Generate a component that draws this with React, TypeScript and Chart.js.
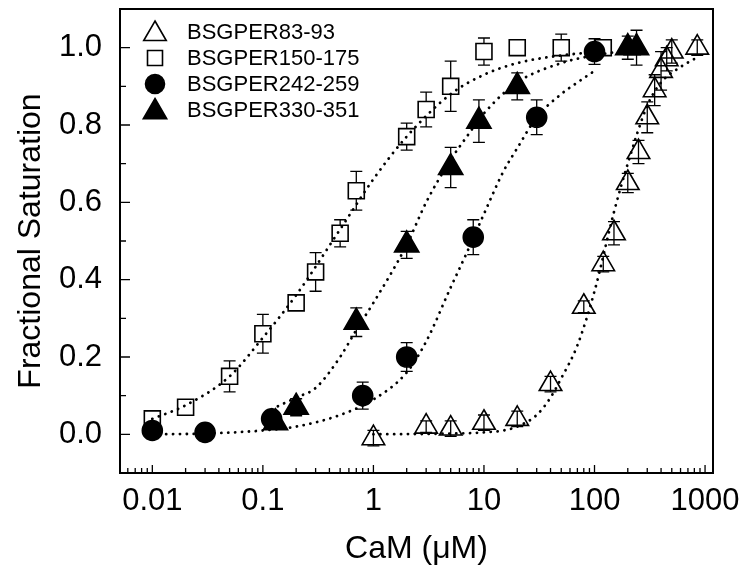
import React, { useEffect, useRef } from 'react';
import { Chart, registerables } from 'chart.js';

Chart.register(...registerables);

const FONT = "'Liberation Sans', Arial, Helvetica, sans-serif";

// ---- Series names ----
const seriesNames = ['BSGPER83-93', 'BSGPER150-175', 'BSGPER242-259', 'BSGPER330-351'];

// ---- BSGPER83-93 (open triangles) ----
const tri83X = [1, 3, 5, 10, 20, 40, 80, 120, 150, 200, 250, 300, 350, 400, 450, 500, 850];
const tri83Y = [-0.01, 0.02, 0.015, 0.03, 0.04, 0.13, 0.33, 0.44, 0.52, 0.65, 0.73, 0.82, 0.89, 0.94, 0.97, 0.99, 1.0];
const tri83Err = [0.02, 0.015, 0.02, 0.02, 0.02, 0.02, 0.015, 0.02, 0.03, 0.025, 0.03, 0.04, 0.04, 0.05, 0.03, 0.03, 0.02];

// ---- BSGPER150-175 (open squares) ----
const sq150X = [0.01, 0.02, 0.05, 0.1, 0.2, 0.3, 0.5, 0.7, 2, 3, 5, 10, 20, 50, 120];
const sq150Y = [0.04, 0.07, 0.15, 0.26, 0.34, 0.42, 0.52, 0.63, 0.77, 0.84, 0.9, 0.99, 1.0, 1.0, 1.0];
const sq150Err = [0.01, 0.005, 0.04, 0.05, 0.02, 0.05, 0.035, 0.05, 0.035, 0.045, 0.065, 0.035, 0.005, 0.035, 0.02];

// ---- BSGPER242-259 (filled circles) ----
const circ242X = [0.01, 0.03, 0.12, 0.8, 2, 8, 30, 100];
const circ242Y = [0.01, 0.005, 0.04, 0.1, 0.2, 0.51, 0.82, 0.99];
const circ242Err = [0, 0, 0.015, 0.035, 0.037, 0.045, 0.045, 0.033];

// ---- BSGPER330-351 (filled triangles) ----
const tri330X = [0.13, 0.2, 0.7, 2, 5, 9, 20, 200, 240];
const tri330Y = [0.03, 0.07, 0.29, 0.49, 0.69, 0.81, 0.9, 1.0, 1.0];
const tri330Err = [0.01, 0.022, 0.037, 0.035, 0.052, 0.055, 0.035, 0.03, 0.045];

// ---- Fitted curves ----
const fit83X = [1, 5, 10, 15, 20, 30, 40, 50, 70, 100, 150, 200, 300, 400, 600, 850];
const fit83Y = [0.0, 0.002, 0.005, 0.01, 0.02, 0.05, 0.095, 0.145, 0.23, 0.37, 0.575, 0.7, 0.85, 0.91, 0.95, 0.975];

const fit150X = [0.01, 0.02, 0.05, 0.1, 0.2, 0.5, 1, 2, 5, 10, 20, 50, 120];
const fit150Y = [0.04, 0.075, 0.15, 0.25, 0.36, 0.53, 0.66, 0.77, 0.88, 0.93, 0.96, 0.98, 0.99];

const fit242X = [0.01, 0.03, 0.1, 0.2, 0.5, 1, 2, 3, 5, 7, 10, 15, 20, 30, 50, 70, 100];
const fit242Y = [0.0, 0.002, 0.01, 0.02, 0.05, 0.09, 0.16, 0.24, 0.38, 0.47, 0.57, 0.68, 0.74, 0.82, 0.88, 0.91, 0.94];

const fit330X = [0.12, 0.2, 0.3, 0.5, 0.7, 1, 2, 3, 5, 7, 10, 20, 50, 100, 240];
const fit330Y = [0.065, 0.095, 0.12, 0.2, 0.27, 0.34, 0.49, 0.6, 0.71, 0.77, 0.83, 0.91, 0.96, 0.98, 0.995];

// ---- Axes ----
const xMin = 0.0051;
const xMax = 1180;
const yMin = -0.1;
const yMax = 1.1;
const xTickLabels = [0.01, 0.1, 1, 10, 100, 1000];
const yTickLabels = [0, 0.2, 0.4, 0.6, 0.8, 1.0];
const yMinorTicks = [0.1, 0.3, 0.5, 0.7, 0.9];
const xMinorTicks: number[] = [];
for (let e = -3; e <= 3; e++) {
  for (let m = 2; m <= 9; m++) xMinorTicks.push(m * Math.pow(10, e));
}

const pts = (xs: number[], ys: number[]) => xs.map((x, i) => ({ x, y: ys[i] }));

type Shape = 'triangle' | 'rect' | 'circle';

function drawShape(ctx: CanvasRenderingContext2D, shape: Shape, x: number, y: number, r: number, filled: boolean) {
  ctx.beginPath();
  if (shape === 'triangle') {
    const s = Math.sin((2 * Math.PI) / 3) * r;
    ctx.moveTo(x, y - r);
    ctx.lineTo(x + s, y + r / 2);
    ctx.lineTo(x - s, y + r / 2);
    ctx.closePath();
  } else if (shape === 'rect') {
    const h = r * Math.SQRT1_2;
    ctx.rect(x - h, y - h, 2 * h, 2 * h);
  } else {
    ctx.arc(x, y, r, 0, Math.PI * 2);
  }
  if (filled) {
    ctx.fillStyle = '#000';
    ctx.fill();
  }
  ctx.strokeStyle = '#000';
  ctx.lineWidth = 1.6;
  ctx.stroke();
}

const markerSpecs: { shape: Shape; r: number; filled: boolean; legendR: number }[] = [
  { shape: 'triangle', r: 13, filled: false, legendR: 13 },
  { shape: 'rect', r: 11.3, filled: false, legendR: 10.6 },
  { shape: 'circle', r: 10, filled: true, legendR: 9.5 },
  { shape: 'triangle', r: 14, filled: true, legendR: 13.5 },
];

const errorSets = [
  { ds: 0, errs: tri83Err, gap: 0 },
  { ds: 1, errs: sq150Err, gap: 8 },
  { ds: 2, errs: circ242Err, gap: 0 },
  { ds: 3, errs: tri330Err, gap: 0 },
];

const errorBarPlugin = {
  id: 'errorBars',
  beforeDatasetsDraw(chart: any) {
    const ctx = chart.ctx as CanvasRenderingContext2D;
    const yScale = chart.scales.y;
    ctx.save();
    ctx.strokeStyle = '#000';
    ctx.lineWidth = 1.3;
    errorSets.forEach(({ ds, errs, gap }) => {
      const meta = chart.getDatasetMeta(ds);
      const data = chart.data.datasets[ds].data as { x: number; y: number }[];
      meta.data.forEach((el: any, i: number) => {
        const e = errs[i];
        if (!e) return;
        const x = el.x;
        const yc = el.y;
        const yt = yScale.getPixelForValue(data[i].y + e);
        const yb = yScale.getPixelForValue(data[i].y - e);
        ctx.beginPath();
        if (yt < yc - gap) {
          ctx.moveTo(x, yc - gap);
          ctx.lineTo(x, yt);
          ctx.moveTo(x - 6, yt);
          ctx.lineTo(x + 6, yt);
        }
        if (yb > yc + gap) {
          ctx.moveTo(x, yc + gap);
          ctx.lineTo(x, yb);
          ctx.moveTo(x - 6, yb);
          ctx.lineTo(x + 6, yb);
        }
        ctx.stroke();
      });
    });
    ctx.restore();
  },
};

const frameLegendPlugin = {
  id: 'frameLegend',
  afterDraw(chart: any) {
    const ctx = chart.ctx as CanvasRenderingContext2D;
    const { left, right, top, bottom } = chart.chartArea;
    const xs = chart.scales.x;
    const ys = chart.scales.y;
    ctx.save();
    // frame
    ctx.strokeStyle = '#000';
    ctx.lineWidth = 2;
    ctx.strokeRect(left, top, right - left, bottom - top);
    // inward ticks
    ctx.lineWidth = 1.3;
    ctx.beginPath();
    xTickLabels.forEach((v) => {
      const px = xs.getPixelForValue(v);
      ctx.moveTo(px, bottom);
      ctx.lineTo(px, bottom - 8);
    });
    xMinorTicks.forEach((v) => {
      if (v <= xMin || v >= xMax) return;
      const px = xs.getPixelForValue(v);
      ctx.moveTo(px, bottom);
      ctx.lineTo(px, bottom - 5);
    });
    yTickLabels.forEach((v) => {
      const py = ys.getPixelForValue(v);
      ctx.moveTo(left, py);
      ctx.lineTo(left + 10, py);
    });
    yMinorTicks.forEach((v) => {
      const py = ys.getPixelForValue(v);
      ctx.moveTo(left, py);
      ctx.lineTo(left + 6, py);
    });
    ctx.stroke();
    // legend
    ctx.font = `22px ${FONT}`;
    ctx.textBaseline = 'middle';
    ctx.textAlign = 'left';
    ctx.fillStyle = '#000';
    seriesNames.forEach((name, i) => {
      const cy = top + 23 + i * 26;
      const spec = markerSpecs[i];
      const my = spec.shape === 'triangle' ? cy + 2 : cy;
      drawShape(ctx, spec.shape, left + 35, my, spec.legendR, spec.filled);
      ctx.fillStyle = '#000';
      ctx.fillText(name, left + 67, cy + 1);
    });
    ctx.restore();
  },
};

function fmtX(v: number) {
  const e = Math.round(Math.log10(v));
  return e < 0 ? Math.pow(10, e).toFixed(-e) : String(Math.pow(10, e));
}

export default function App() {
  const ref = useRef<HTMLCanvasElement | null>(null);
  useEffect(() => {
    if (!ref.current) return;
    const markerDs = [
      { data: pts(tri83X, tri83Y) },
      { data: pts(sq150X, sq150Y) },
      { data: pts(circ242X, circ242Y) },
      { data: pts(tri330X, tri330Y) },
    ].map((d, i) => ({
      label: seriesNames[i],
      data: d.data,
      showLine: false,
      pointStyle: markerSpecs[i].shape,
      pointRadius: markerSpecs[i].r,
      pointHoverRadius: markerSpecs[i].r,
      pointBackgroundColor: markerSpecs[i].filled ? '#000' : 'rgba(0,0,0,0)',
      pointBorderColor: '#000',
      pointBorderWidth: 1.6,
      order: 0,
    }));
    const curveDs = [
      pts(fit83X, fit83Y),
      pts(fit150X, fit150Y),
      pts(fit242X, fit242Y),
      pts(fit330X, fit330Y),
    ].map((data, i) => ({
      label: seriesNames[i] + ' fit',
      data,
      showLine: true,
      pointRadius: 0,
      pointHoverRadius: 0,
      borderColor: '#000',
      borderWidth: 2.8,
      borderDash: [0.1, 6.8],
      borderCapStyle: 'round' as const,
      cubicInterpolationMode: 'monotone' as const,
      fill: false,
      order: 1,
    }));

    const chart = new Chart(ref.current, {
      type: 'scatter',
      data: { datasets: [...markerDs, ...curveDs] as any },
      options: {
        animation: false,
        responsive: false,
        layout: { autoPadding: false, padding: { left: 0, top: 9, right: 32, bottom: 0 } },
        plugins: { legend: { display: false }, tooltip: { enabled: false } },
        scales: {
          x: {
            type: 'logarithmic',
            min: xMin,
            max: xMax,
            grid: { display: false },
            border: { display: false },
            afterBuildTicks: (s: any) => {
              s.ticks = xTickLabels.map((v) => ({ value: v }));
            },
            afterFit: (s: any) => {
              s.height = 112;
              s.paddingLeft = 0;
              s.paddingRight = 0;
            },
            ticks: {
              autoSkip: false,
              maxRotation: 0,
              minRotation: 0,
              padding: 2,
              color: '#000',
              font: { family: FONT, size: 31 },
              callback: (v: any) => fmtX(Number(v)),
            },
            title: {
              display: true,
              text: 'CaM (μM)',
              color: '#000',
              font: { family: FONT, size: 32 },
              padding: { top: 0, bottom: 17 },
            },
          },
          y: {
            type: 'linear',
            min: yMin,
            max: yMax,
            grid: { display: false },
            border: { display: false },
            afterBuildTicks: (s: any) => {
              s.ticks = yTickLabels.map((v) => ({ value: v }));
            },
            afterFit: (s: any) => {
              s.width = 120;
              s.paddingTop = 0;
              s.paddingBottom = 0;
            },
            ticks: {
              padding: 10,
              color: '#000',
              font: { family: FONT, size: 31, lineHeight: 0.4 },
              callback: (v: any) => Number(v).toFixed(1),
            },
            title: {
              display: true,
              text: 'Fractional Saturation',
              color: '#000',
              font: { family: FONT, size: 32 },
              padding: { top: 12, bottom: 0 },
            },
          },
        },
      },
      plugins: [errorBarPlugin, frameLegendPlugin],
    });
    return () => chart.destroy();
  }, []);

  return (
    <div style={{ position: 'fixed', left: 0, top: 0, width: 745, height: 585, background: '#fff' }}>
      <canvas ref={ref} width={745} height={585} style={{ display: 'block', width: 745, height: 585 }} />
    </div>
  );
}
